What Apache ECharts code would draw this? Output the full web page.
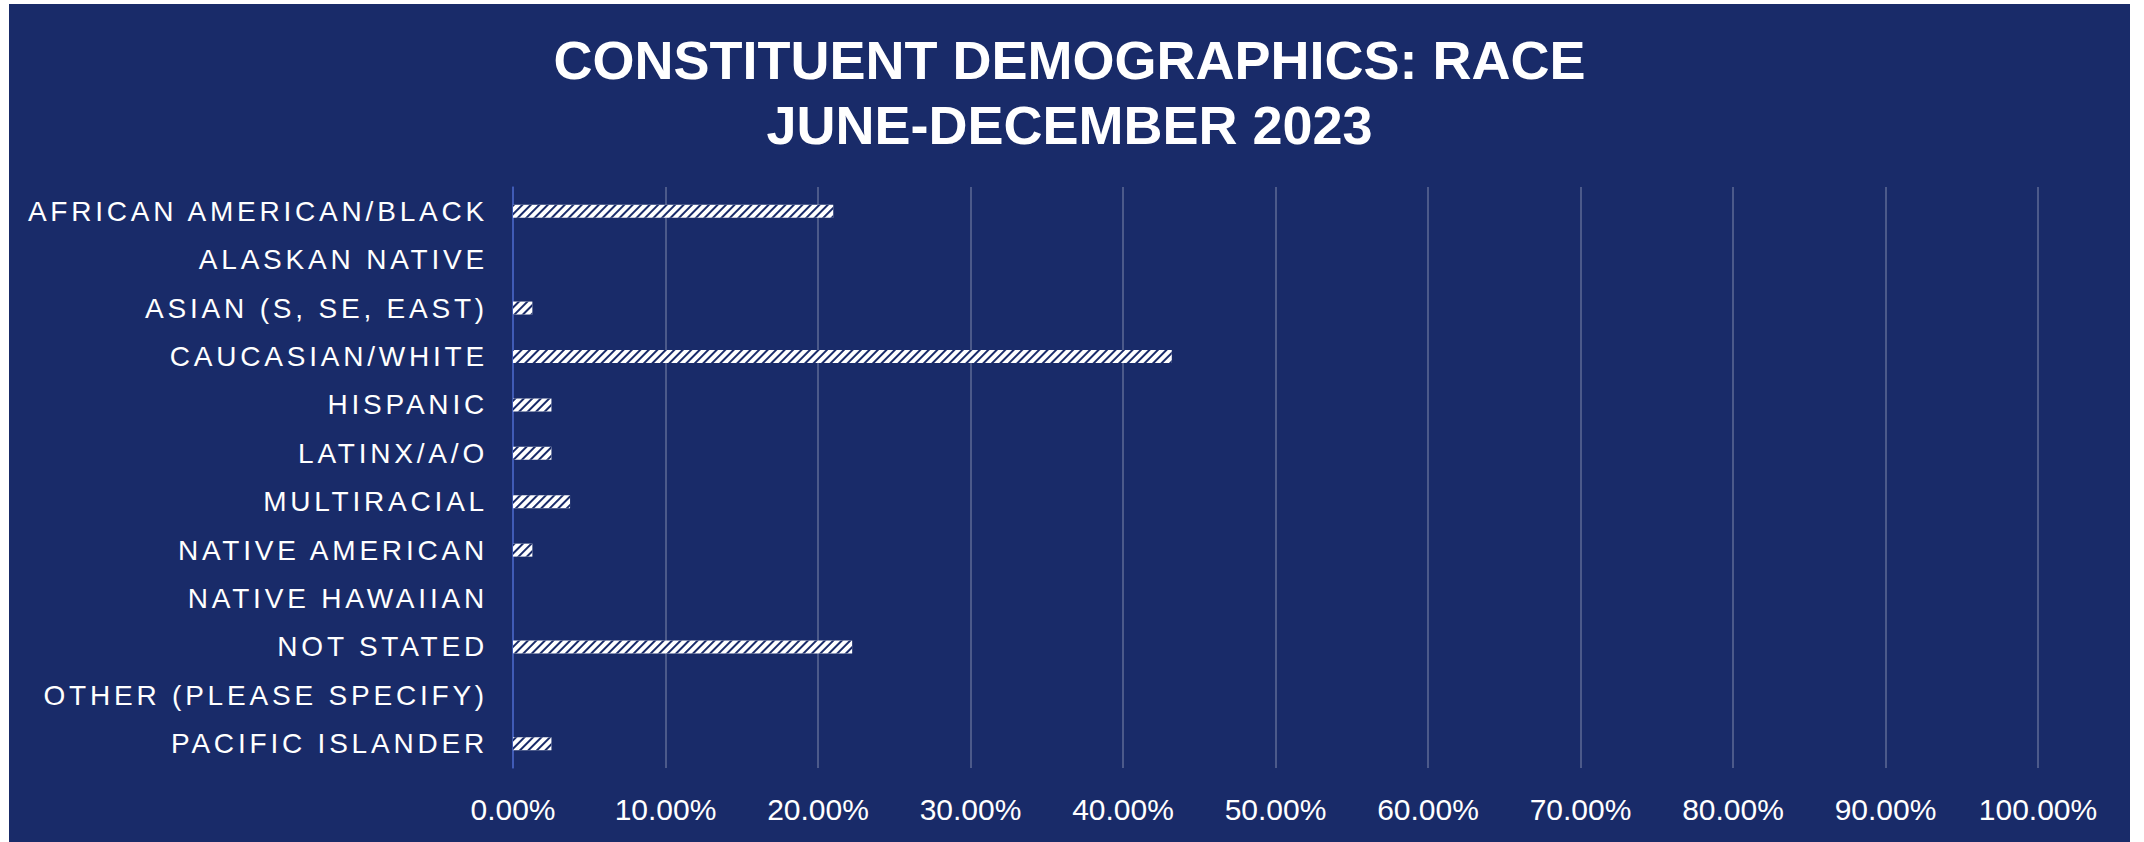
<!DOCTYPE html>
<html>
<head>
<meta charset="utf-8">
<script src="https://cdn.jsdelivr.net/npm/echarts@6/dist/echarts.min.js"></script>
<style>
    html, body { margin: 0; padding: 0; background: #ffffff; }
    #chart {
        position: absolute;
        left: 9px;
        top: 4px;
        width: 2121px;
        height: 838px;
        background: #192b69;
    }
    /* category labels have wide tracking */
    #chart svg text[text-anchor="end"] { letter-spacing: 3.8px; }
</style>
</head>
<body>
<div id="chart"></div>
<script>
var titleText = 'CONSTITUENT DEMOGRAPHICS: RACE\nJUNE-DECEMBER 2023';

var categories = [
    'AFRICAN AMERICAN/BLACK',
    'ALASKAN NATIVE',
    'ASIAN (S, SE, EAST)',
    'CAUCASIAN/WHITE',
    'HISPANIC',
    'LATINX/A/O',
    'MULTIRACIAL',
    'NATIVE AMERICAN',
    'NATIVE HAWAIIAN',
    'NOT STATED',
    'OTHER (PLEASE SPECIFY)',
    'PACIFIC ISLANDER'
];

// percent of constituents
var shares = [21.0, 0, 1.27, 43.2, 2.52, 2.52, 3.74, 1.27, 0, 22.24, 0, 2.52];

var axisMin = 0;
var axisMax = 100;
var axisStep = 10;

var navy = '#192b69';
var fontName = '"Liberation Sans", Arial, sans-serif';

var chart = echarts.init(document.getElementById('chart'), null, { renderer: 'svg' });

var option = {
    backgroundColor: navy,
    animation: false,
    title: {
        text: titleText,
        left: 'center',
        top: 18,
        textStyle: {
            color: '#ffffff',
            fontFamily: fontName,
            fontSize: 54,
            fontWeight: 'bold',
            lineHeight: 65
        }
    },
    grid: {
        left: 504,
        right: 92,
        top: 183,
        bottom: 74,
        outerBoundsMode: 'none'
    },
    xAxis: {
        type: 'value',
        min: axisMin,
        max: axisMax,
        interval: axisStep,
        axisLine: { show: false },
        axisTick: { show: false },
        splitLine: {
            show: true,
            lineStyle: { color: 'rgba(255,255,255,0.3)', width: 1.5 }
        },
        axisLabel: {
            color: '#ffffff',
            fontFamily: fontName,
            fontSize: 30,
            margin: 26,
            formatter: function (v) {
                return v.toFixed(2) + '%';
            }
        }
    },
    yAxis: {
        type: 'category',
        data: categories,
        inverse: true,
        axisTick: { show: false },
        axisLine: {
            show: true,
            lineStyle: { color: '#3c5cc4', width: 1.5 }
        },
        axisLabel: {
            color: '#ffffff',
            fontFamily: fontName,
            fontSize: 28,
            margin: 25
        }
    },
    series: [{
        type: 'bar',
        data: shares,
        barWidth: 13,
        itemStyle: {
            color: '#ffffff',
            borderWidth: 0,
            decal: {
                symbol: 'rect',
                symbolSize: 1,
                color: navy,
                dashArrayX: [1, 0],
                dashArrayY: [2, 4],
                rotation: -Math.PI / 4
            }
        }
    }]
};

chart.setOption(option);
</script>
</body>
</html>
